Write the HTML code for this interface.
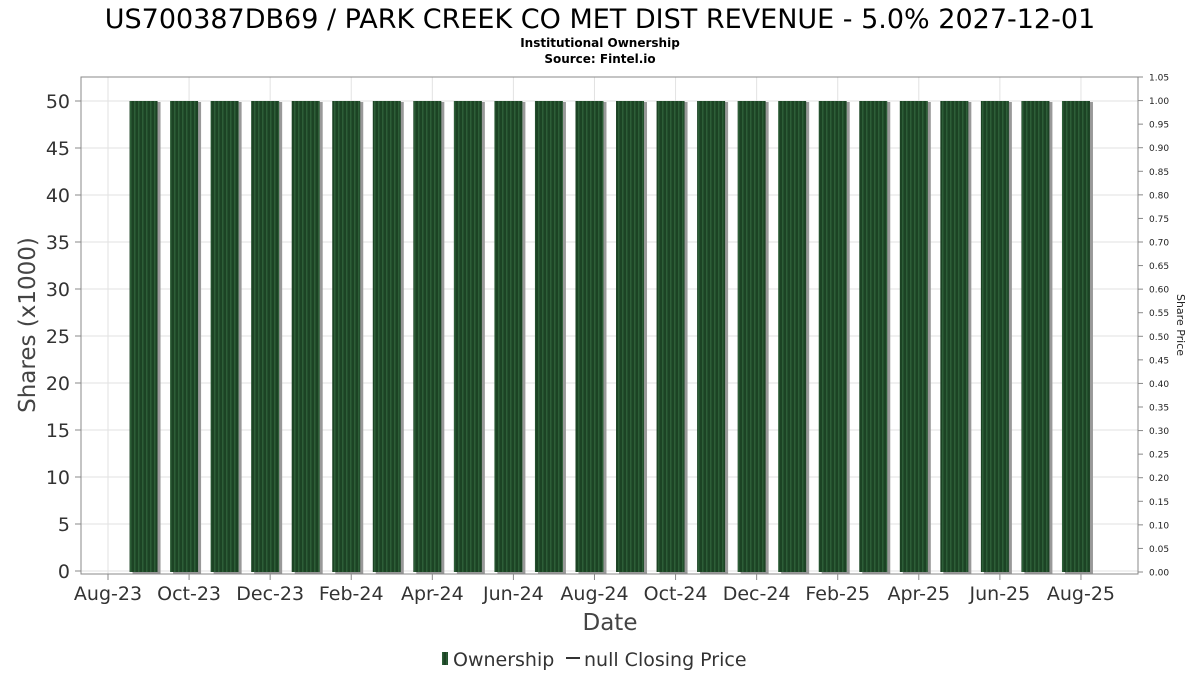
<!DOCTYPE html>
<html><head><meta charset="utf-8"><style>
body{margin:0;background:#fff;}
svg text{font-family:"DejaVu Sans","Liberation Sans",sans-serif;}
</style></head><body>
<svg width="1200" height="675" xmlns="http://www.w3.org/2000/svg">
<defs><pattern id="stripes" width="4" height="10" patternUnits="userSpaceOnUse"><rect width="4" height="10" fill="#1c4324"/><rect x="2" width="1.5" height="10" fill="#2d5e37"/></pattern></defs>
<text x="600" y="28" font-size="27" text-anchor="middle" fill="#000">US700387DB69 / PARK CREEK CO MET DIST REVENUE - 5.0% 2027-12-01</text>
<text x="600" y="47" font-size="12" font-weight="bold" text-anchor="middle">Institutional Ownership</text>
<text x="600" y="63" font-size="12" font-weight="bold" text-anchor="middle">Source: Fintel.io</text>
<g id="grid"></g>
<g id="bars"></g>
<rect x="81" y="77" width="1057" height="497" fill="none" stroke="#888"/>
<g id="axes"></g>
<text transform="translate(35,325) rotate(-90)" font-size="23" fill="#444" text-anchor="middle">Shares (x1000)</text>
<text transform="translate(1177,325) rotate(90)" font-size="11" fill="#222" text-anchor="middle">Share Price</text>
<text x="610" y="630" font-size="23" fill="#444" text-anchor="middle">Date</text>
<g>
<rect x="442" y="652" width="6" height="13" fill="url(#stripes)"/>
<text x="453" y="666" font-size="19" fill="#333">Ownership</text>
<line x1="566" y1="658" x2="580" y2="658" stroke="#333" stroke-width="2"/>
<text x="584" y="666" font-size="19" fill="#333">null Closing Price</text>
</g>
</svg>
<script>
const monthIndex=[1,2,3,4,5,6,7,8,9,10,11,12,13,14,15,16,17,18,19,20,21,22,23,24];
const shares=[50,50,50,50,50,50,50,50,50,50,50,50,50,50,50,50,50,50,50,50,50,50,50,50];
const xLabels=["Aug-23","Oct-23","Dec-23","Feb-24","Apr-24","Jun-24","Aug-24","Oct-24","Dec-24","Feb-25","Apr-25","Jun-25","Aug-25"];
const yTicks=[0,5,10,15,20,25,30,35,40,45,50];
const y2Ticks=[0,0.05,0.1,0.15,0.2,0.25,0.3,0.35,0.4,0.45,0.5,0.55,0.6,0.65,0.7,0.75,0.8,0.85,0.9,0.95,1.0,1.05];
const NS="http://www.w3.org/2000/svg";
const xs=m=>108+m*40.54;
const ys=v=>571-v*9.4;
const y2=v=>572-v*(495/1.05);
function mk(t,a,p){const e=document.createElementNS(NS,t);for(const k in a)e.setAttribute(k,a[k]);p.appendChild(e);return e;}
const grid=document.getElementById('grid'),bars=document.getElementById('bars'),axes=document.getElementById('axes');
yTicks.forEach(v=>{
 const l=mk('line',{x1:81,x2:1138,y1:ys(v),y2:ys(v),stroke:'#e2e2e2'},grid);
 
 
 mk('line',{x1:75,x2:81,y1:ys(v),y2:ys(v),stroke:'#888'},axes);
 const t=mk('text',{x:70,y:ys(v)+7,'font-size':19,fill:'#333','text-anchor':'end'},axes);
 t.textContent=v;
 
 
});
xLabels.forEach((s,i)=>{
 const x=xs(i*2);
 const l=mk('line',{x1:x,x2:x,y1:77,y2:574,stroke:'#e2e2e2'},grid);
 
 
 mk('line',{x1:x,x2:x,y1:574,y2:580,stroke:'#888'},axes);
 const t=mk('text',{x:x,y:600,'font-size':19,fill:'#333','text-anchor':'middle'},axes);
 t.textContent=s;
 
 
});
y2Ticks.forEach(v=>{
 mk('line',{x1:1138,x2:1143,y1:y2(v),y2:y2(v),stroke:'#888'},axes);
 const t=mk('text',{x:1149,y:y2(v)+3.5,'font-size':9,fill:'#222'},axes);
 t.textContent=v.toFixed(2);
 
 
});
monthIndex.forEach((m,i)=>{
 const cx=xs(m)-5,top=ys(shares[i]),h=ys(0)-top;
 const s=mk('rect',{x:cx-14+3,y:top+1,width:28,height:h+2,fill:'#999'},bars);
 
 
 const b=mk('rect',{x:cx-14,y:top,width:28,height:h+1,fill:'url(#stripes)'},bars);
 
 
});
</script>
</body></html>
